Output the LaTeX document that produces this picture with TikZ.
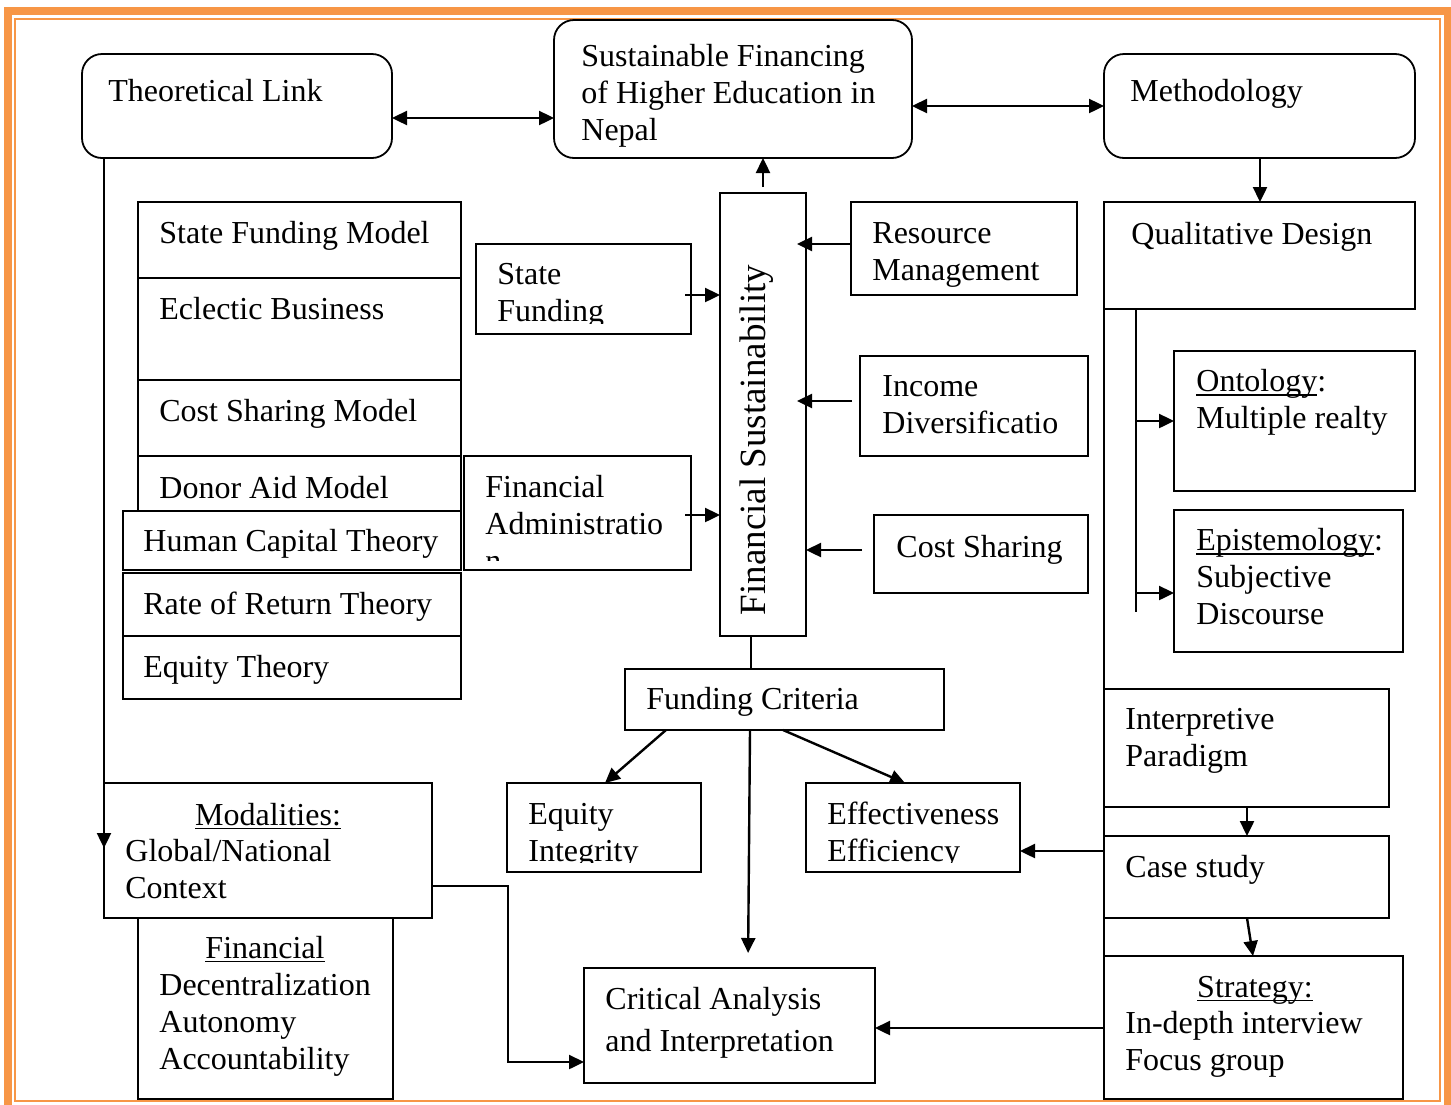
\documentclass[tikz,border=0pt]{standalone}
\usepackage{fontspec}
\setmainfont{Liberation Serif}
\usetikzlibrary{arrows.meta,fit}
\definecolor{frameorange}{HTML}{F79646}
\newsavebox\ulbox
\newcommand\ulword[1]{\sbox\ulbox{#1}\rlap{\rule[-2.2pt]{\wd\ulbox}{0.9pt}}\usebox\ulbox}

\begin{document}
\begin{tikzpicture}[x=0.5pt,y=-0.5pt,
  bx/.style={draw=black, line width=0.9pt, inner sep=0pt, outer sep=0pt, fit={#1}},
  rbx/.style={bx={#1}, rounded corners=10pt},
  lbl/.style={inner sep=0pt, anchor=north west, align=left, font=\fontsize{16}{18.5}\selectfont},
  hd/.style={inner sep=0pt, anchor=base, font=\fontsize{16}{18.5}\selectfont},
  con/.style={line width=1.2pt},
  arr/.style={con, -{Triangle[length=7.5pt,width=7pt]}},
  dbl/.style={con, {Triangle[length=7.5pt,width=7pt]}-{Triangle[length=7.5pt,width=7pt]}}]

\useasboundingbox (0,0) rectangle (1451,1104);
\clip (0,0) rectangle (1451,1104);

% reference levels for the connectors
\foreach \v in {106,118,244,295,323,401,421,515,550,560,593,612,848,851,862,886,1028,1062}
  \coordinate (h\v) at (0,\v);
\foreach \v in {104,508,605,666,748,750,751,783,905,1136,1247,1253,1260}
  \coordinate (v\v) at (\v,0);

% page frame
\draw[frameorange, line width=4pt] (8,11) rectangle (1448,1112);
\draw[frameorange, line width=1pt] (15,19) rectangle (1439.5,1101);

% top row
\node[rbx={(82,54) (392,158)}] (tl) {};
\node[rbx={(554,20) (912,158)}] (sfh) {};
\node[rbx={(1104,54) (1415,158)}] (meth) {};

% models and theories
\node[bx={(138,202) (461,278)}] (m1) {};
\node[bx={(138,278) (461,380)}] (m2) {};
\node[bx={(138,380) (461,456)}] (m3) {};
\node[bx={(138,456) (461,511)}] (m4) {};
\node[bx={(123,511) (461,570)}] (hc) {};
\node[bx={(123,573) (461,636)}] (rr) {};
\node[bx={(123,636) (461,699)}] (eqt) {};

% centre
\node[bx={(720,193) (806,636)}] (fs) {};
\node[bx={(476,244) (691,334)}] (sfund) {};
\node[bx={(464,456) (691,570)}] (fadm) {};
\node[bx={(851,202) (1077,295)}] (res) {};
\node[bx={(860,356) (1088,456)}] (inc) {};
\node[bx={(874,515) (1088,593)}] (cs) {};
\node[bx={(625,669) (944,730)}] (fc) {};
\node[bx={(507,783) (701,872)}] (ei) {};
\node[bx={(806,783) (1020,872)}] (ee) {};
\node[bx={(584,968) (875,1083)}] (ca) {};

% bottom left
\node[bx={(104,783) (432,918)}] (mod) {};
\node[bx={(138,918) (393,1099)}] (fd) {};

% methodology column
\node[bx={(1104,202) (1415,309)}] (qd) {};
\node[bx={(1174,351) (1415,491)}] (ont) {};
\node[bx={(1174,510) (1403,652)}] (epi) {};
\node[bx={(1104,689) (1389,807)}] (ip) {};
\node[bx={(1104,836) (1389,918)}] (cst) {};
\node[bx={(1104,956) (1403,1099)}] (str) {};

% labels
\node[lbl] (tl-t) at (108,75) {\strut Theoretical Link};
\node[lbl] (sfh-t) at (581,40) {\strut Sustainable Financing\\of Higher Education in\\Nepal};
\node[lbl] (meth-t) at (1130,75) {\strut Methodology};
\node[lbl] (qd-t) at (1131,218) {\strut Qualitative Design};
\node[lbl] (m1-t) at (159,217) {\strut State Funding Model};
\node[lbl] (m2-t) at (159,293) {\strut Eclectic Business};
\node[lbl] (m3-t) at (159,395) {\strut Cost Sharing Model};
\node[lbl] (m4-t) at (159,472) {\strut Donor Aid Model};
\node[lbl] (hc-t) at (143,525) {\strut Human Capital Theory};
\node[lbl] (rr-t) at (143,588) {\strut Rate of Return Theory};
\node[lbl] (eqt-t) at (143,651) {\strut Equity Theory};
\node[rotate=90, anchor=base, inner sep=0pt, font=\fontsize{18.5}{22}\selectfont] (fs-t) at (765,440) {Financial Sustainability};
\begin{scope}
  \clip (sfund.north west) rectangle (sfund.east |- h323);
  \node[lbl] (sfund-t) at (497,258) {\strut State\\Funding};
\end{scope}
\begin{scope}
  \clip (fadm.north west) rectangle (fadm.east |- h560);
  \node[lbl] (fadm-t) at (485,471) {\strut Financial\\Administratio\\n};
\end{scope}
\node[lbl] (res-t) at (872,217) {\strut Resource\\Management};
\node[lbl] (inc-t) at (882,370) {\strut Income\\Diversificatio};
\node[lbl] (cs-t) at (896,531) {\strut Cost Sharing};
\node[lbl] (fc-t) at (646,683) {\strut Funding Criteria};
\begin{scope}
  \clip (ei.north west) rectangle (ei.east |- h862);
  \node[lbl] (ei-t) at (528,798) {\strut Equity\\Integrity};
\end{scope}
\begin{scope}
  \clip (ee.north west) rectangle (ee.east |- h862);
  \node[lbl] (ee-t) at (827,798) {\strut Effectiveness\\Efficiency};
\end{scope}
\node[hd] (mod-h) at (268,825) {\ulword{Modalities:}};
\node[lbl] (mod-t) at (125,835) {\strut Global/National\\Context};
\node[hd] (fd-h) at (265,958) {\ulword{Financial}};
\node[lbl] (fd-t) at (159,969) {\strut Decentralization\\Autonomy\\Accountability};
\node[lbl] (ca-t) at (605,983) {\strut Critical Analysis\\[2.5pt]and Interpretation};
\node[lbl] (ont-t) at (1196,365) {\strut\ulword{Ontology}:\\Multiple realty};
\node[lbl] (epi-t) at (1196,524) {\strut\ulword{Epistemology}:\\Subjective\\Discourse};
\node[lbl] (ip-t) at (1125,703) {\strut Interpretive\\Paradigm};
\node[lbl] (cst-t) at (1125,851) {\strut Case study};
\node[hd] (str-h) at (1255,997) {\ulword{Strategy:}};
\node[lbl] (str-t) at (1125,1007) {\strut In-depth interview\\Focus group};

% connectors
\draw[dbl] (tl.east |- h118) -- (sfh.west |- h118);
\draw[dbl] (sfh.east |- h106) -- (meth.west |- h106);
\draw[arr] (meth.south -| v1260) -- (qd.north -| v1260);
\draw[arr, shorten <=3pt] (fs.north) -- (sfh.south -| fs.north);
\draw[arr, shorten <=-3pt] (sfund.east |- h295) -- (fs.west |- h295);
\draw[arr, shorten <=-3pt] (fadm.east |- h515) -- (fs.west |- h515);
\draw[arr, shorten >=-4.5pt] (res.west |- h244) -- (fs.east |- h244);
\draw[arr, shorten <=4pt, shorten >=-4.5pt] (inc.west |- h401) -- (fs.east |- h401);
\draw[arr, shorten <=6pt] (cs.west |- h550) -- (fs.east |- h550);
\draw[con] (fs.south -| v751) -- (fc.north -| v751);
\draw[arr] (fc.south -| v666) -- (ei.north -| v605);
\draw[arr] (fc.south -| v783) -- (ee.north -| v905);
\draw[arr, shorten >=7.5pt] (fc.south -| v750) -- (ca.north -| v748);
\draw[arr] (cst.west |- h851) -- (ee.east |- h851);
\draw[arr] (str.west |- h1028) -- (ca.east |- h1028);
\draw[arr] (ip.south -| v1247) -- (cst.north -| v1247);
\draw[arr] (cst.south -| v1247) -- (str.north -| v1253);
\draw[arr] (tl.south -| v104) -- (mod.west |- h848);
\draw[arr] (mod.east |- h886) -| (v508 |- h1062) -- (ca.west |- h1062);

% methodology spine and branches
\draw[line width=0.9pt] (qd.south west) -- (str.south west);
\draw[line width=0.9pt] (qd.south -| v1136) -- (v1136 |- h612);
\draw[arr] (v1136 |- h421) -- (ont.west |- h421);
\draw[arr] (v1136 |- h593) -- (epi.west |- h593);
\end{tikzpicture}
\end{document}
